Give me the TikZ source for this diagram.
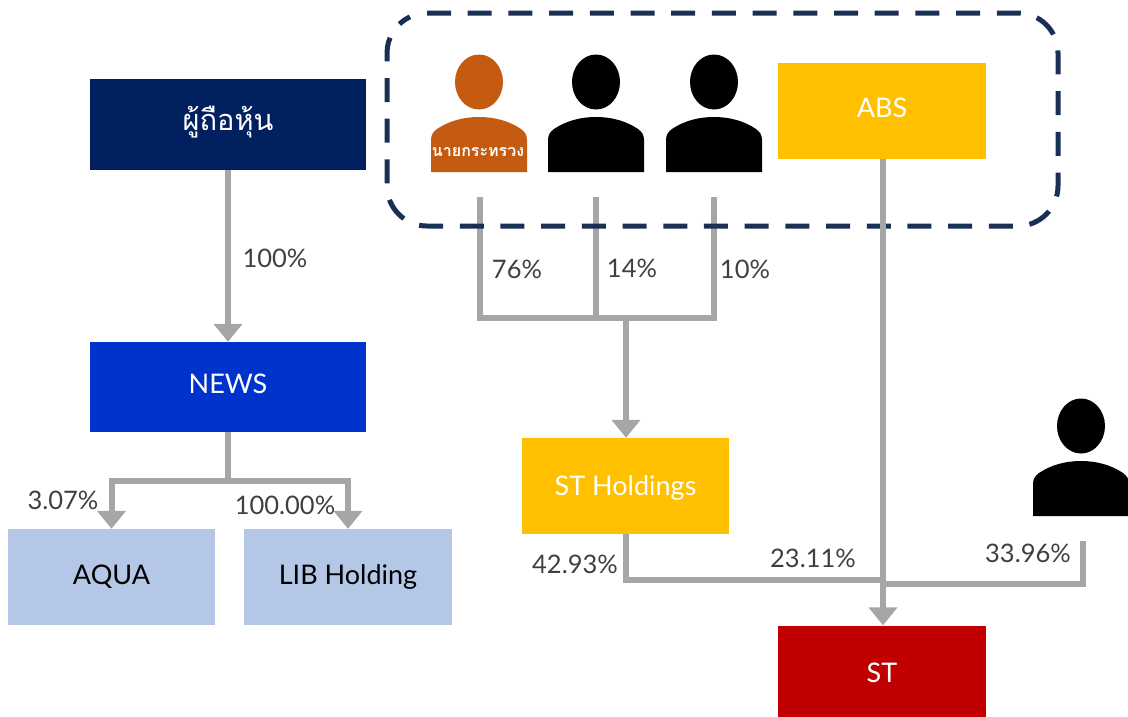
\documentclass[tikz,border=0pt]{standalone}
\usepackage{fontspec}
\setmainfont{Lato}
\newfontfamily\thaifont[Script=Thai]{Loma}
\usetikzlibrary{arrows.meta, positioning, shapes.geometric}

\definecolor{headblue}{HTML}{002060}
\definecolor{newsblue}{HTML}{0033CC}
\definecolor{lightblue}{HTML}{B4C7E7}
\definecolor{boxyellow}{HTML}{FFC000}
\definecolor{boxred}{HTML}{C00000}
\definecolor{ministerorange}{HTML}{C55A11}
\definecolor{linkgray}{HTML}{A6A6A6}
\definecolor{groupnavy}{HTML}{1B2F55}
\definecolor{pcttext}{HTML}{404040}

\tikzset{
    box/.style={rectangle, minimum width=207.5pt, minimum height=96pt, inner sep=0pt, font=\fontsize{27}{30}\selectfont},
    link/.style={draw=linkgray, line width=6pt},
    arrowlink/.style={link, -{Triangle[width=28pt,length=18pt]}},
    pct/.style={text=pcttext, inner sep=0pt, font=\fontsize{25.5}{30}\selectfont},
    personhead/.style={ellipse, minimum width=48pt, minimum height=55pt, inner sep=0pt}
}

\newcommand{\personfig}[4]{% name, centre x, top y, colour
    \node[personhead, fill=#4] (#1) at (#2,#3+27) {};
    \fill[#4] (#2-48,#3+117) -- (#2-48,#3+85) .. controls (#2-48,#3+80) and (#2-46,#3+77) .. (#2-42,#3+74)
        .. controls (#2-30,#3+66) and (#2-16,#3+62) .. (#2,#3+62)
        .. controls (#2+16,#3+62) and (#2+30,#3+66) .. (#2+42,#3+74)
        .. controls (#2+46,#3+77) and (#2+48,#3+80) .. (#2+48,#3+85) -- (#2+48,#3+117) -- cycle;
}
\newcommand{\shiftlabel}[2]{\raisebox{#1}[\height][\depth]{#2}}

\begin{document}
\begin{tikzpicture}[x=1pt, y=-1pt]
    \useasboundingbox (0,0) rectangle (1128,716);

    \node[box, fill=headblue, text=white, minimum width=276pt, minimum height=91pt, font=\fontsize{29}{34}\thaifont] (holders) at (228,124.5) {\shiftlabel{2pt}{ผู้ถือหุ้น}};
    \node[box, fill=newsblue, text=white, minimum width=276pt, minimum height=90pt] (news) at (228,387) {\shiftlabel{3pt}{NEWS}};
    \node[box, fill=lightblue, text=black] (aqua) at (111.5,577) {AQUA};
    \node[box, fill=lightblue, text=black] (lib) at (348,577) {LIB Holding};
    \node[box, fill=boxyellow, text=white] (abs) at (882,111) {\shiftlabel{3pt}{ABS}};
    \node[box, fill=boxyellow, text=white] (sth) at (625.5,486) {\shiftlabel{-2pt}{ST Holdings}};
    \node[box, fill=boxred, text=white, minimum height=91pt] (st) at (882,671) {\shiftlabel{-2pt}{ST}};

    \personfig{minister}{479}{55}{ministerorange}
    \personfig{partnera}{596}{55}{black}
    \personfig{partnerb}{714}{55}{black}
    \personfig{partnerc}{1081}{399}{black}
    \node[text=white, inner sep=0pt, font=\fontsize{16}{18}\thaifont\bfseries] (ministerlabel) at (478,152) {นายกระทรวง};

    \coordinate (d1) at (479.5,197);
    \coordinate (d2) at (596,197);
    \coordinate (d3) at (714,197);
    \coordinate (hub) at (626,318);
    \coordinate (d4) at (1083,541);
    \coordinate (stjoin) at (883,582);

    \draw[arrowlink] (holders) -- (news);
    \draw[link] (news.south) -- ++(0,49) coordinate (newsjoin);
    \draw[arrowlink] (newsjoin) -| (aqua.north);
    \draw[arrowlink] (newsjoin) -| (lib.north);

    \draw[link] (d1) |- (hub);
    \draw[link] (d3) |- (hub);
    \draw[link] (d2) -- (d2 |- hub);
    \draw[arrowlink] (hub) -- (hub |- sth.north);

    \draw[link] (sth.south -| hub) |- (stjoin |- 0,580);
    \draw[link] (d4) |- (stjoin |- 0,584);

    % dashed group goes over the owner lines
    \draw[groupnavy, line width=5pt, dash pattern=on 24pt off 16.7pt] (427,13) -- (1018,13)
        .. controls (1040,13) and (1058,31) .. (1058,53) -- (1058,186)
        .. controls (1058,208) and (1040,226) .. (1018,226) -- (427,226)
        .. controls (405,226) and (387,208) .. (387,186) -- (387,53)
        .. controls (387,37.5) and (396,23.4) .. (410,16.8);

    \draw[arrowlink] (stjoin |- abs.south) -- (stjoin |- st.north);

    \node[pct] (p100) at (275,258) {100\%};
    \node[pct] (p76) at (517,269) {76\%};
    \node[pct] (p14) at (632,268) {14\%};
    \node[pct] (p10) at (745,269) {10\%};
    \node[pct] (p307) at (63,500) {3.07\%};
    \node[pct] (p10000) at (285,505) {100.00\%};
    \node[pct] (p4293) at (575,564) {42.93\%};
    \node[pct] (p2311) at (813,558) {23.11\%};
    \node[pct] (p3396) at (1028,553) {33.96\%};
\end{tikzpicture}
\end{document}
